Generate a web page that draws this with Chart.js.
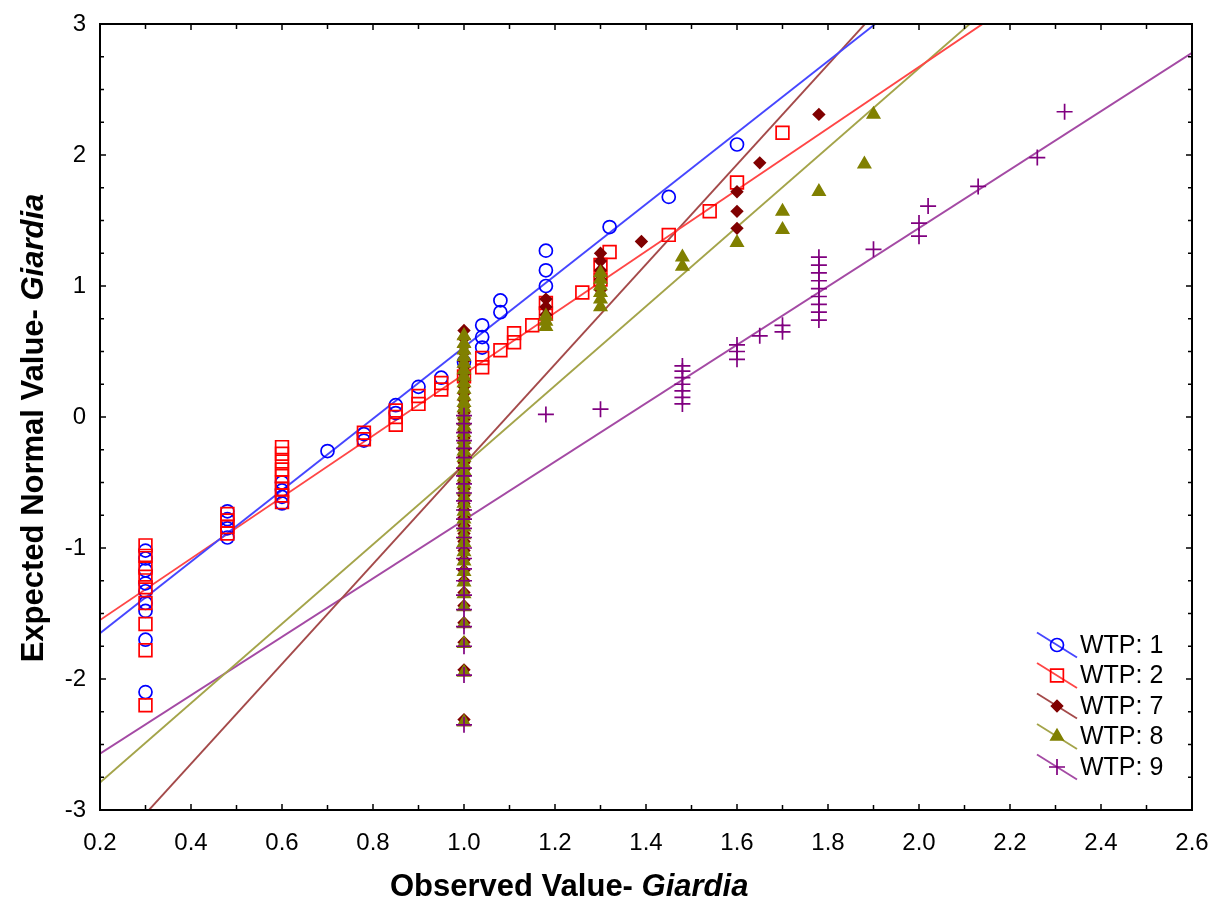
<!DOCTYPE html>
<html>
<head>
<meta charset="utf-8">
<title>Normal probability plot - Giardia</title>
<script src="https://cdn.jsdelivr.net/npm/chart.js@4.4.1/dist/chart.umd.min.js"></script>
<style>
    html, body { margin: 0; padding: 0; background: #fff; }
    #wrap { width: 1215px; height: 901px; }
</style>
</head>
<body>
<div id="wrap"><canvas id="chart-giardia" width="1215" height="901"></canvas></div>
<script>
// observed values (log scale) and expected normal values, one list per observed level
var wtp1Obs = [0.3, 0.48, 0.6, 0.7, 0.78, 0.85, 0.9, 0.95, 1.0, 1.04, 1.08, 1.18, 1.32, 1.45, 1.6];
var wtp1Exp = [
    [-2.1, -1.7, -1.48, -1.42, -1.33, -1.27, -1.17, -1.08, -1.02],
    [-0.92, -0.85, -0.78, -0.72],
    [-0.66, -0.61, -0.56, -0.5],
    [-0.26],
    [-0.18, -0.13],
    [0.03, 0.09],
    [0.23],
    [0.3],
    [0.42],
    [0.53, 0.61, 0.7],
    [0.8, 0.89],
    [1.0, 1.12, 1.27],
    [1.45],
    [1.68],
    [2.08]
];

var wtp2Obs = [0.3, 0.48, 0.6, 0.78, 0.85, 0.9, 0.95, 1.0, 1.04, 1.08, 1.11, 1.15, 1.18, 1.26, 1.3, 1.32, 1.45, 1.54, 1.6, 1.7];
var wtp2Exp = [
    [-2.2, -1.78, -1.58, -1.42, -1.3, -1.22, -1.15, -1.06, -0.98],
    [-0.89, -0.84, -0.79, -0.74],
    [-0.65, -0.6, -0.55, -0.5, -0.45, -0.4, -0.34, -0.28, -0.23],
    [-0.17, -0.12],
    [-0.06, 0.0, 0.05],
    [0.1, 0.16],
    [0.21, 0.26],
    [0.31],
    [0.38, 0.45],
    [0.51],
    [0.57, 0.64],
    [0.7],
    [0.79, 0.87],
    [0.95],
    [1.05, 1.16],
    [1.26],
    [1.39],
    [1.57],
    [1.79],
    [2.17]
];

var wtp7Obs = [1.0, 1.18, 1.3, 1.39, 1.6, 1.65, 1.78];
var wtp7Exp = [
    [-2.31, -1.93, -1.72, -1.57, -1.44, -1.34, -1.25, -1.17, -1.09, -1.02, -0.95, -0.89, -0.83, -0.77,
     -0.71, -0.66, -0.6, -0.55, -0.5, -0.45, -0.4, -0.35, -0.3, -0.25, -0.2, -0.16, -0.11, -0.06,
     -0.02, 0.03, 0.08, 0.13, 0.18, 0.23, 0.28, 0.33, 0.38, 0.43, 0.49, 0.54, 0.6, 0.66],
    [0.78, 0.84, 0.9],
    [0.97, 1.05, 1.12, 1.19, 1.25],
    [1.34],
    [1.44, 1.57, 1.72],
    [1.94],
    [2.31]
];

var wtp8Obs = [1.0, 1.18, 1.3, 1.48, 1.6, 1.7, 1.78, 1.88, 1.9];
var wtp8Exp = [
    [-2.33, -1.95, -1.73, -1.58, -1.45, -1.35, -1.26, -1.18, -1.1, -1.03, -0.96, -0.9, -0.84, -0.78,
     -0.72, -0.66, -0.61, -0.56, -0.51, -0.46, -0.41, -0.36, -0.31, -0.26, -0.21, -0.17, -0.12, -0.07,
     -0.03, 0.02, 0.07, 0.11, 0.16, 0.21, 0.26, 0.31, 0.36, 0.41, 0.46, 0.51, 0.56, 0.62],
    [0.69, 0.73, 0.77],
    [0.84, 0.9, 0.95, 1.0, 1.05, 1.1],
    [1.15, 1.22],
    [1.33],
    [1.43, 1.57],
    [1.72],
    [1.93],
    [2.31]
];

var wtp9Obs = [1.0, 1.18, 1.3, 1.48, 1.6, 1.65, 1.7, 1.78, 1.9, 2.0, 2.02, 2.13, 2.26, 2.32];
var wtp9Exp = [
    [-2.35, -1.97, -1.75, -1.6, -1.47, -1.36, -1.25, -1.16, -1.08, -1.0, -0.92, -0.85, -0.78,
     -0.71, -0.64, -0.58, -0.51, -0.45, -0.39, -0.31, -0.24, -0.18, -0.12, -0.05, 0.01],
    [0.02],
    [0.06],
    [0.1, 0.15, 0.2, 0.25, 0.3, 0.35, 0.39],
    [0.44, 0.5, 0.55],
    [0.62],
    [0.65, 0.7],
    [0.74, 0.8, 0.86, 0.92, 0.98, 1.04, 1.1, 1.16, 1.22],
    [1.28],
    [1.38, 1.48],
    [1.61],
    [1.76],
    [1.98],
    [2.33]
];

// fitted lines, value at each end of the x axis
var fitX = [0.2, 2.6];
var fit1 = [-1.65, 4.90];
var fit2 = [-1.55, 4.08];
var fit7 = [-3.41, 5.74];
var fit8 = [-2.79, 4.48];
var fit9 = [-2.57, 2.78];

var xTicks = [0.2, 0.4, 0.6, 0.8, 1.0, 1.2, 1.4, 1.6, 1.8, 2.0, 2.2, 2.4, 2.6];
var yTicks = [-3, -2, -1, 0, 1, 2, 3];

function toPoints(obs, exp) {
    var pts = [];
    obs.forEach(function(x, i) {
        exp[i].forEach(function(y) { pts.push({x: x, y: y}); });
    });
    return pts;
}

function toLine(ys) {
    return fitX.map(function(x, i) { return {x: x, y: ys[i]}; });
}

var groups = [
    {label: 'WTP: 1', pts: toPoints(wtp1Obs, wtp1Exp), fit: fit1, style: 'circle',  r: 6.5, color: '#0000ff', fill: false, lineColor: '#4646ff'},
    {label: 'WTP: 2', pts: toPoints(wtp2Obs, wtp2Exp), fit: fit2, style: 'rect',    r: 9,   color: '#ff0000', fill: false, lineColor: '#ff4646'},
    {label: 'WTP: 7', pts: toPoints(wtp7Obs, wtp7Exp), fit: fit7, style: 'rectRot', r: 5.5, color: '#800000', fill: true,  lineColor: '#a44a4a'},
    {label: 'WTP: 8', pts: toPoints(wtp8Obs, wtp8Exp), fit: fit8, style: 'triangle',r: 7,   color: '#808000', fill: true,  lineColor: '#a4a44a'},
    {label: 'WTP: 9', pts: toPoints(wtp9Obs, wtp9Exp), fit: fit9, style: 'cross',   r: 8,   color: '#800080', fill: false, lineColor: '#a44aa4'}
];

var datasets = [];
groups.forEach(function(g, i) {
    datasets.push({
        label: g.label,
        data: g.pts,
        showLine: false,
        pointStyle: g.style,
        pointRadius: g.r,
        pointHoverRadius: g.r,
        pointBorderWidth: 1.7,
        pointBorderColor: g.color,
        pointBackgroundColor: g.fill ? g.color : 'rgba(0,0,0,0)',
        order: 10 - i
    });
    datasets.push({
        label: g.label + ' fit',
        data: toLine(g.fit),
        showLine: true,
        borderColor: g.lineColor,
        borderWidth: 1.9,
        pointRadius: 0,
        order: 20
    });
});

var frame = {
    id: 'frame',
    afterDraw: function(chart) {
        var ctx = chart.ctx, a = chart.chartArea, xs = chart.scales.x, ys = chart.scales.y;
        ctx.save();

        // inward ticks on all four sides
        ctx.strokeStyle = '#000';
        ctx.lineWidth = 1.5;
        ctx.beginPath();
        for (var v = 2; v <= 26; v++) {
            var px = xs.getPixelForValue(v / 10);
            var len = (v % 2 === 0) ? 6 : 5;
            ctx.moveTo(px, a.bottom); ctx.lineTo(px, a.bottom - len);
            ctx.moveTo(px, a.top); ctx.lineTo(px, a.top + len);
        }
        for (var w = -12; w <= 12; w++) {
            var py = ys.getPixelForValue(w / 4);
            var l2 = (w % 4 === 0) ? 6 : 4;
            ctx.moveTo(a.left, py); ctx.lineTo(a.left + l2, py);
            ctx.moveTo(a.right, py); ctx.lineTo(a.right - l2, py);
        }
        ctx.stroke();
        ctx.lineWidth = 2;
        ctx.strokeRect(a.left, a.top, a.right - a.left, a.bottom - a.top);

        // axis titles, with the genus in italics
        ctx.fillStyle = '#000';
        ctx.textBaseline = 'alphabetic';
        ctx.textAlign = 'left';
        var f1 = 'bold 31px "Liberation Sans", Arial, sans-serif';
        var f2 = 'italic bold 31px "Liberation Sans", Arial, sans-serif';
        ctx.font = f1;
        var t1 = 'Observed Value- ';
        var w1 = ctx.measureText(t1).width;
        ctx.fillText(t1, 390, 896);
        ctx.font = f2;
        ctx.fillText('Giardia', 390 + w1, 896);

        ctx.save();
        ctx.font = f1;
        var t2 = 'Expected Normal Value- ';
        var w2 = ctx.measureText(t2).width;
        ctx.font = f2;
        var w3 = ctx.measureText('Giardia').width;
        ctx.translate(43, 428);
        ctx.rotate(-Math.PI / 2);
        var sx = -(w2 + w3) / 2;
        ctx.font = f1;
        ctx.fillText(t2, sx, 0);
        ctx.font = f2;
        ctx.fillText('Giardia', sx + w2, 0);
        ctx.restore();

        // legend in the lower right corner
        ctx.font = '25px "Liberation Sans", Arial, sans-serif';
        ctx.textBaseline = 'middle';
        groups.forEach(function(g, i) {
            var cx = 1057, cy = 645 + i * 30.5;
            ctx.strokeStyle = g.lineColor;
            ctx.lineWidth = 1.9;
            ctx.beginPath();
            ctx.moveTo(cx - 20, cy - 12.5);
            ctx.lineTo(cx + 20, cy + 12.5);
            ctx.stroke();
            ctx.strokeStyle = g.color;
            ctx.fillStyle = g.fill ? g.color : 'rgba(0,0,0,0)';
            ctx.lineWidth = 1.7;
            Chart.helpers.drawPoint(ctx, {pointStyle: g.style, radius: g.r, rotation: 0, borderWidth: 1.7}, cx, cy);
            ctx.fillStyle = '#000';
            ctx.fillText(g.label, 1080, cy + 1);
        });
        ctx.restore();
    }
};

var ctx = document.getElementById('chart-giardia');
var myChart = new Chart(ctx, {
    type: 'scatter',
    data: { datasets: datasets },
    options: {
        responsive: false,
        animation: false,
        layout: { padding: { left: 0, right: 23, top: 24, bottom: 0 } },
        plugins: {
            legend: { display: false },
            tooltip: { enabled: false }
        },
        scales: {
            x: {
                type: 'linear',
                min: 0.2,
                max: 2.6,
                afterBuildTicks: function(scale) {
                    scale.ticks = xTicks.map(function(v) { return {value: v}; });
                },
                afterFit: function(scale) {
                    scale.height = 91;
                    scale.paddingLeft = 0;
                    scale.paddingRight = 0;
                },
                grid: { display: false, drawTicks: false },
                border: { display: false },
                ticks: {
                    padding: 19,
                    color: '#000',
                    font: { family: '"Liberation Sans", Arial, sans-serif', size: 24 },
                    callback: function(v) { return Number(v).toFixed(1); }
                }
            },
            y: {
                type: 'linear',
                min: -3,
                max: 3,
                afterBuildTicks: function(scale) {
                    scale.ticks = yTicks.map(function(v) { return {value: v}; });
                },
                afterFit: function(scale) {
                    scale.width = 100;
                    scale.paddingTop = 0;
                    scale.paddingBottom = 0;
                },
                grid: { display: false, drawTicks: false },
                border: { display: false },
                ticks: {
                    padding: 14,
                    color: '#000',
                    font: { family: '"Liberation Sans", Arial, sans-serif', size: 24 }
                }
            }
        }
    },
    plugins: [frame]
});
</script>
</body>
</html>
